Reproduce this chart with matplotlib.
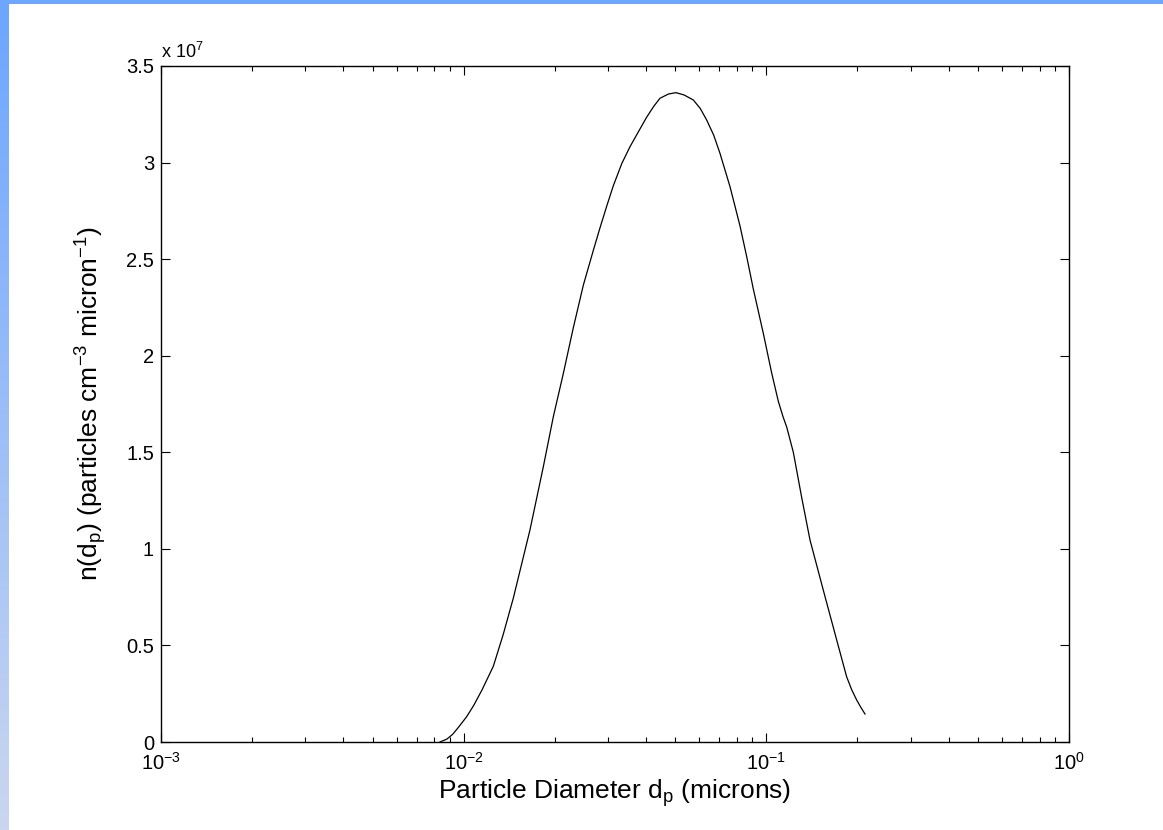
import numpy as np
import matplotlib
matplotlib.use("Agg")
import matplotlib.pyplot as plt
from matplotlib.ticker import LogLocator, NullFormatter, FixedLocator

plt.rcParams['font.family'] = ['Liberation Sans', 'DejaVu Sans']
plt.rcParams['mathtext.fontset'] = 'custom'
plt.rcParams['mathtext.rm'] = 'Liberation Sans'
plt.rcParams['mathtext.it'] = 'Liberation Sans:italic'
plt.rcParams['mathtext.bf'] = 'Liberation Sans:bold'

# particle diameter (microns) and number distribution (units of 1e7 particles cm^-3 micron^-1)
diameter = [0.00835, 0.0088, 0.0092, 0.0096, 0.01023, 0.0108, 0.0115, 0.01253,
            0.0135, 0.01459, 0.01656, 0.01833, 0.01978, 0.02135,
            0.02303, 0.02485, 0.02681, 0.02821, 0.0297, 0.03122, 0.0333, 0.03544, 0.0378, 0.04024,
            0.0425, 0.04453, 0.0475, 0.05029, 0.0535, 0.05738, 0.0605, 0.06353, 0.067,
            0.07028, 0.07586, 0.08185, 0.0862, 0.09058, 0.09772,
            0.1041, 0.1095, 0.1135, 0.1168, 0.1228, 0.1309, 0.1394, 0.1542, 0.1708,
            0.1842, 0.1915, 0.1988, 0.2055, 0.2118]
n_dp = [0.0, 0.015, 0.040, 0.075, 0.131, 0.190, 0.270, 0.392,
        0.555, 0.745, 1.098, 1.425, 1.684, 1.909,
        2.145, 2.365, 2.545, 2.662, 2.775, 2.880, 2.995, 3.082, 3.160, 3.235,
        3.292, 3.333, 3.355, 3.362, 3.350, 3.324, 3.280, 3.220, 3.142,
        3.048, 2.875, 2.672, 2.510, 2.345, 2.116,
        1.912, 1.765, 1.685, 1.630, 1.500, 1.265, 1.046, 0.787, 0.528,
        0.338, 0.270, 0.2175, 0.178, 0.145]
ytick_vals = [0, 0.5, 1, 1.5, 2, 2.5, 3, 3.5]
ytick_labels = ['0', '0.5', '1', '1.5', '2', '2.5', '3', '3.5']
xtick_vals = [1e-3, 1e-2, 1e-1, 1e0]
xtick_labels = ['$10^{-3}$', '$10^{-2}$', '$10^{-1}$', '$10^{0}$']

fig = plt.figure(figsize=(11.63, 8.30), dpi=100)

# blue frame: top strip and left gradient strip
top = fig.add_axes([0, 1 - 4 / 830, 1, 4 / 830])
top.set_axis_off()
top.add_patch(plt.Rectangle((0, 0), 1, 1, color='#6ca6ff', transform=top.transAxes))
left = fig.add_axes([0, 0, 9 / 1163, 1])
left.set_axis_off()
grad = np.linspace(0, 1, 256).reshape(-1, 1)
c_top = np.array([108, 166, 255]) / 255
c_bot = np.array([202, 214, 240]) / 255
img = c_top[None, None, :] * (1 - grad[:, :, None]) + c_bot[None, None, :] * grad[:, :, None]
left.imshow(img, aspect='auto', extent=[0, 1, 0, 1])

ax = fig.add_axes([161 / 1163, 1 - 742 / 830, 908 / 1163, 676 / 830])
ax.plot(diameter, n_dp, color='black', linewidth=0.9, solid_joinstyle='round')
ax.set_xscale('log')
ax.set_xlim(1e-3, 1)
ax.set_ylim(0, 3.5)

ax.xaxis.set_major_locator(FixedLocator(xtick_vals))
ax.set_xticklabels(xtick_labels)
ax.xaxis.set_minor_locator(LogLocator(base=10, subs=np.arange(2, 10)))
ax.xaxis.set_minor_formatter(NullFormatter())
ax.set_yticks(ytick_vals)
ax.set_yticklabels(ytick_labels)

ax.tick_params(which='both', direction='in', top=True, right=True, labelsize=14.5, width=0.8)
ax.tick_params(which='major', length=6.5)
ax.tick_params(which='minor', length=3.5)
ax.tick_params(axis='x', pad=7)
ax.tick_params(axis='y', pad=5)
for s in ax.spines.values():
    s.set_linewidth(1.0)

ax.text(0.0, 1.006, r'x $10^{7}$', transform=ax.transAxes, fontsize=13, ha='left', va='bottom')

ax.set_xlabel(r'Particle Diameter d$_{\mathregular{p}}$ (microns)', fontsize=19, labelpad=3)
ax.set_ylabel(r'n(d$_{\mathregular{p}}$) (particles cm$^{\mathregular{-3}}$ micron$^{\mathregular{-1}}$)',
              fontsize=19, labelpad=12)

fig.savefig('out.png', dpi=100)
